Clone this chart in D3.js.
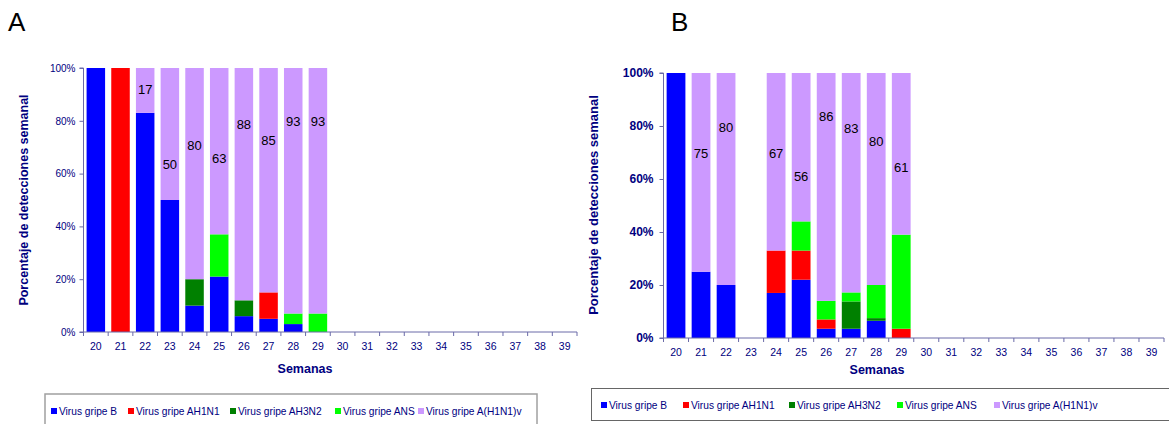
<!DOCTYPE html>
<html>
<head>
<meta charset="utf-8">
<script src="https://cdn.jsdelivr.net/npm/d3@7"></script>
<style>
  html, body { margin: 0; padding: 0; background: #fff; }
  svg { display: block; font-family: "Liberation Sans", Arial, sans-serif; }
</style>
</head>
<body>
<svg id="chart" width="1169" height="424"></svg>
<script>
// ---------- DATA ----------
const weeks = ["20","21","22","23","24","25","26","27","28","29","30","31","32","33","34","35","36","37","38","39"];
const seriesNames = ["Virus gripe B","Virus gripe AH1N1","Virus gripe AH3N2","Virus gripe ANS","Virus gripe A(H1N1)v"];
const yTicks = [0, 20, 40, 60, 80, 100];

// Panel A (weeks 20..29), percent of weekly detections
const A_gripeB   = [100,   0, 83, 50, 10, 21,  6,  5,  3,  0];
const A_AH1N1    = [  0, 100,  0,  0,  0,  0,  0, 10,  0,  0];
const A_AH3N2    = [  0,   0,  0,  0, 10,  0,  6,  0,  0,  0];
const A_ANS      = [  0,   0,  0,  0,  0, 16,  0,  0,  4,  7];
const A_H1N1v    = [  0,   0, 17, 50, 80, 63, 88, 85, 93, 93];
const A_labelAt  = [null, null, 91.8, 63.4, 70.7, 65.6, 78.6, 72.6, 79.8, 79.8];

// Panel B (weeks 20..29)
const B_gripeB   = [100, 25, 20, 0, 17, 22, 3.5, 3.5, 6.5, 0];
const B_AH1N1    = [  0,  0,  0, 0, 16, 11, 3.5, 0,   0,   3.5];
const B_AH3N2    = [  0,  0,  0, 0,  0,  0, 0,   10.3, 1,  0];
const B_ANS      = [  0,  0,  0, 0,  0, 11, 7,   3.4, 12.5, 35.5];
const B_H1N1v    = [  0, 75, 80, 0, 67, 56, 86,  82.8, 80, 61];
const B_labelAt  = [null, 69.5, 79.6, null, 69.5, 60.9, 83.6, 78.9, 74.1, 64.4];

// ---------- STYLE ----------
const colors = ["#0000FF", "#FF0000", "#008000", "#00FF00", "#CC99FF"];
const navy = "#000080";
const axisColor = "#6a6aa8";

const svg = d3.select("#chart");

function buildRows(series) {
  return weeks.map((w, i) => {
    const row = { week: w };
    series.forEach((s, k) => { row["s" + k] = (i < s.length ? s[i] : 0); });
    return row;
  });
}

function drawPanel(cfg) {
  const g = svg.append("g");
  const x = d3.scaleBand().domain(weeks).range([cfg.x0, cfg.x1]).paddingInner(0.25).paddingOuter(0.125);
  const xEdge = d3.scaleLinear().domain([0, weeks.length]).range([cfg.x0, cfg.x1]);
  const y = d3.scaleLinear().domain([0, 100]).range([cfg.yBottom, cfg.yTop]);

  const rows = buildRows(cfg.series);
  const keys = cfg.series.map((_, k) => "s" + k);
  const stacked = d3.stack().keys(keys)(rows);

  // bars
  stacked.forEach((layer, k) => {
    g.append("g").selectAll("rect")
      .data(layer.filter(d => d[1] - d[0] > 0))
      .join("rect")
      .attr("x", d => x(d.data.week))
      .attr("width", x.bandwidth())
      .attr("y", d => y(d[1]))
      .attr("height", d => y(d[0]) - y(d[1]))
      .attr("fill", colors[k]);
  });

  // data labels on pandemic segment
  const pan = cfg.series[4];
  g.append("g").selectAll("text")
    .data(cfg.labelAt.map((v, i) => ({ v, i })).filter(d => d.v !== null))
    .join("text")
    .attr("x", d => x(weeks[d.i]) + x.bandwidth() / 2)
    .attr("y", d => y(d.v))
    .attr("dy", "0.35em")
    .attr("text-anchor", "middle")
    .attr("font-size", 13)
    .attr("fill", "#000")
    .text(d => Math.round(pan[d.i]));

  // y axis
  const yAxis = d3.axisLeft(y).tickValues(yTicks).tickFormat(d => d + "%").tickSize(4).tickPadding(cfg.yTickPad);
  const ya = g.append("g").attr("transform", `translate(${cfg.x0},0)`).call(yAxis);
  ya.select(".domain").attr("stroke", axisColor).attr("d", `M-4,${cfg.yTop}H0V${cfg.yBottom}H-4`);
  ya.selectAll(".tick line").attr("stroke", axisColor);
  ya.selectAll(".tick text").attr("fill", navy).attr("font-size", cfg.yTickSize)
    .attr("font-weight", cfg.yTickWeight).attr("font-family", "Liberation Sans, Arial, sans-serif");

  // x axis: line + boundary ticks
  const xAxis = d3.axisBottom(x).tickSize(0).tickPadding(cfg.xTickPad);
  const xa = g.append("g").attr("transform", `translate(0,${cfg.yBottom})`).call(xAxis);
  xa.select(".domain").attr("stroke", axisColor).attr("d", `M${cfg.x0},0H${cfg.x1}`);
  xa.selectAll(".tick text").attr("fill", navy).attr("font-size", 10.5)
    .attr("font-family", "Liberation Sans, Arial, sans-serif");
  xa.append("g").selectAll("line")
    .data(d3.range(weeks.length + 1))
    .join("line")
    .attr("x1", d => xEdge(d)).attr("x2", d => xEdge(d))
    .attr("y1", 0).attr("y2", 4)
    .attr("stroke", axisColor);

  // axis titles
  g.append("text")
    .attr("transform", `translate(${cfg.yTitleX},${cfg.yTitleY}) rotate(-90)`)
    .attr("text-anchor", "middle").attr("dy", "0.35em")
    .attr("font-size", cfg.yTitleSize).attr("font-weight", "bold").attr("fill", navy)
    .text("Porcentaje de detecciones semanal");
  g.append("text")
    .attr("x", cfg.xTitleX).attr("y", cfg.xTitleY).attr("dy", "0.35em")
    .attr("text-anchor", "middle")
    .attr("font-size", 12.5).attr("font-weight", "bold").attr("fill", navy)
    .text("Semanas");

  // panel letter
  g.append("text")
    .attr("x", cfg.letterX).attr("y", 31)
    .attr("font-size", 26).attr("fill", "#000")
    .text(cfg.letter);

  // legend
  const lg = g.append("g");
  lg.append("rect")
    .attr("x", cfg.legend.x).attr("y", cfg.legend.y)
    .attr("width", cfg.legend.w).attr("height", cfg.legend.h)
    .attr("fill", "#fff").attr("stroke", cfg.legend.stroke).attr("stroke-width", cfg.legend.sw);
  const items = lg.selectAll("g.item").data(seriesNames).join("g").attr("class", "item")
    .attr("transform", (d, i) => `translate(${cfg.legend.itemX[i]},${cfg.legend.cy})`);
  items.append("rect").attr("x", 0).attr("y", -3).attr("width", 6).attr("height", 6)
    .attr("fill", (d, i) => colors[i]);
  items.append("text").attr("x", 8).attr("dy", "0.35em")
    .attr("font-size", 10.2).attr("fill", navy).text(d => d);
}

drawPanel({
  letter: "A", letterX: 8,
  series: [A_gripeB, A_AH1N1, A_AH3N2, A_ANS, A_H1N1v],
  labelAt: A_labelAt,
  x0: 83.5, x1: 577, yTop: 68, yBottom: 332,
  yTickSize: 10, yTickWeight: "normal", yTickPad: 4,
  xTickPad: 11,
  yTitleX: 24, yTitleY: 200, yTitleSize: 12.5,
  xTitleX: 305, xTitleY: 369,
  legend: { x: 45, y: 394, w: 492, h: 50, stroke: "#a0a0a0", sw: 1.5, cy: 411,
            itemX: [51, 128, 230, 335, 418] }
});

drawPanel({
  letter: "B", letterX: 671,
  series: [B_gripeB, B_AH1N1, B_AH3N2, B_ANS, B_H1N1v],
  labelAt: B_labelAt,
  x0: 663.5, x1: 1164, yTop: 73, yBottom: 338,
  yTickSize: 12, yTickWeight: "bold", yTickPad: 6,
  xTickPad: 11,
  yTitleX: 593, yTitleY: 205, yTitleSize: 13,
  xTitleX: 877, xTitleY: 370,
  legend: { x: 591.5, y: 388.5, w: 600, h: 32, stroke: "#666", sw: 1, cy: 405,
            itemX: [601, 683, 789, 897, 994] }
});
</script>
</body>
</html>
